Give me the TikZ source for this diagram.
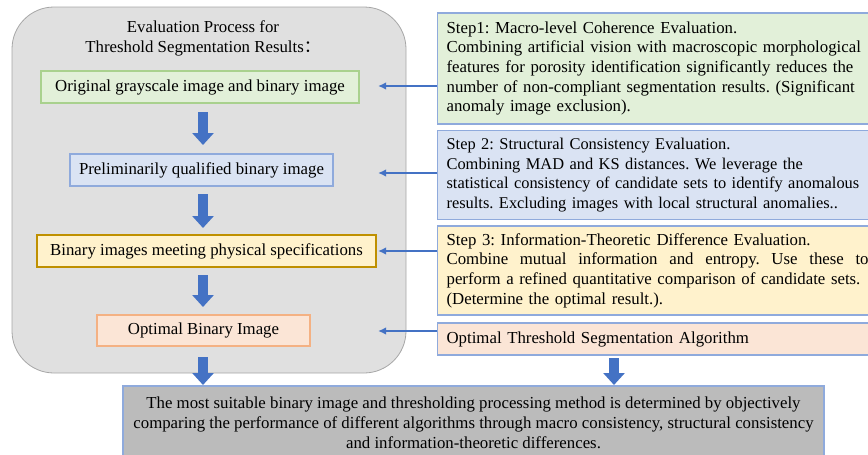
\documentclass[tikz,border=0pt]{standalone}
\usepackage{fontspec}
\setmainfont{Liberation Serif}
\newfontfamily\cjk{Noto Sans CJK SC}
\usetikzlibrary{arrows.meta}
\definecolor{gfill}{HTML}{E2F0D9}
\definecolor{gline}{HTML}{A9D18E}
\definecolor{bfill}{HTML}{DAE3F3}
\definecolor{bline}{HTML}{8FAADC}
\definecolor{yfill}{HTML}{FFF2CC}
\definecolor{yline}{HTML}{BF9000}
\definecolor{ofill}{HTML}{FBE5D6}
\definecolor{oline}{HTML}{F4B183}
\definecolor{arrblue}{HTML}{4472C4}
\definecolor{panel}{HTML}{E0E0E0}
\definecolor{panelline}{HTML}{A6A6A6}
\definecolor{resfill}{HTML}{BBBBBB}
\frenchspacing
\tikzset{
  every node/.style={font=\fontsize{16.8}{19.8}\selectfont, inner sep=0pt},
  leftbox/.style={draw, line width=1.2pt, minimum height=32pt, align=center},
  stepbox/.style={draw=bline, line width=1.2pt, anchor=west, text width=480pt, align=left, inner xsep=9pt, font=\fontsize{16.8}{19.6}\selectfont},
  fatarrow/.style={draw=arrblue, line width=10pt, -{Triangle[width=21pt,length=12pt]}, arrblue},
  thinarrow/.style={draw=arrblue, line width=2pt, -{Latex[length=8pt,width=7.5pt]}},
}
\begin{document}
\begin{tikzpicture}[x=1pt,y=-1pt]
\useasboundingbox (0,0) rectangle (868,455);
\clip (0,0) rectangle (868,455);
% left panel
\node[draw=panelline, fill=panel, line width=0.8pt, rounded corners=42pt, minimum width=394pt, minimum height=366pt] (panel) at (209,190) {};
\node[align=center] (title) at (203,38) {Evaluation Process for\\Threshold Segmentation Results{\cjk ：}};
\node[leftbox, draw=gline, fill=gfill, minimum width=318pt] (green) at (200,87) {Original grayscale image and binary image};
\node[leftbox, draw=bline, fill=bfill, minimum width=263pt] (blue) at (201.5,170) {Preliminarily qualified binary image};
\node[leftbox, draw=yline, fill=yfill, minimum width=339pt] (yellow) at (206.5,251) {Binary images meeting physical specifications};
\node[leftbox, draw=oline, fill=ofill, minimum width=213pt, minimum height=31pt] (orange) at (203.5,330.5) {Optimal Binary Image};
% right step boxes
\node[stepbox, fill=gfill, minimum height=111pt] (s1) at (437,68.5) {Step1: Macro-level Coherence Evaluation.\\Combining artificial vision with macroscopic morphological\\features for porosity identification significantly reduces the\\number of non-compliant segmentation results. (Significant\\anomaly image exclusion).};
\node[stepbox, fill=bfill, minimum height=89pt, font=\fontsize{16.4}{19.8}\selectfont] (s2) at (437,175) {Step 2: Structural Consistency Evaluation.\\Combining MAD and KS distances. We leverage the\\statistical consistency of candidate sets to identify anomalous\\results. Excluding images with local structural anomalies..};
\node[stepbox, fill=yfill, minimum height=89pt] (s3) at (437,270.5) {Step 3: Information-Theoretic Difference Evaluation.\\\leavevmode\hbox to 422pt{\spaceskip=0.25em plus 1fil Combine mutual information and entropy. Use these to}\\perform a refined quantitative comparison of candidate sets.\\(Determine the optimal result.).};
\node[stepbox, fill=ofill, minimum height=32pt] (s4) at (437,339) {Optimal Threshold Segmentation Algorithm};
% result box
\node[draw=bline, fill=resfill, line width=1.2pt, minimum width=701pt, minimum height=74pt, align=center] (res) at (473.5,423) {The most suitable binary image and thresholding processing method is determined by objectively\\comparing the performance of different algorithms through macro consistency, structural consistency\\and information-theoretic differences.};
% block arrows
\coordinate (a1s) at (203,112); \coordinate (a1e) at (203,145);
\coordinate (a2s) at (203,194); \coordinate (a2e) at (203,228);
\coordinate (a3s) at (203,275); \coordinate (a3e) at (203,307);
\coordinate (a4s) at (203,357); \coordinate (a4e) at (203,385);
\coordinate (a5s) at (614,358); \coordinate (a5e) at (614,385);
\draw[fatarrow] (a1s) -- (a1e);
\draw[fatarrow] (a2s) -- (a2e);
\draw[fatarrow] (a3s) -- (a3e);
\draw[fatarrow] (a4s) -- (a4e);
\draw[fatarrow] (a5s) -- (a5e);
% thin arrows
\coordinate (t1) at (378,86);
\coordinate (t2) at (378,173);
\coordinate (t3) at (378,251);
\coordinate (t4) at (378,331);
\draw[thinarrow] (s1.west |- t1) -- (t1);
\draw[thinarrow] (s2.west |- t2) -- (t2);
\draw[thinarrow] (s3.west |- t3) -- (t3);
\draw[thinarrow] (s4.west |- t4) -- (t4);
\end{tikzpicture}
\end{document}
